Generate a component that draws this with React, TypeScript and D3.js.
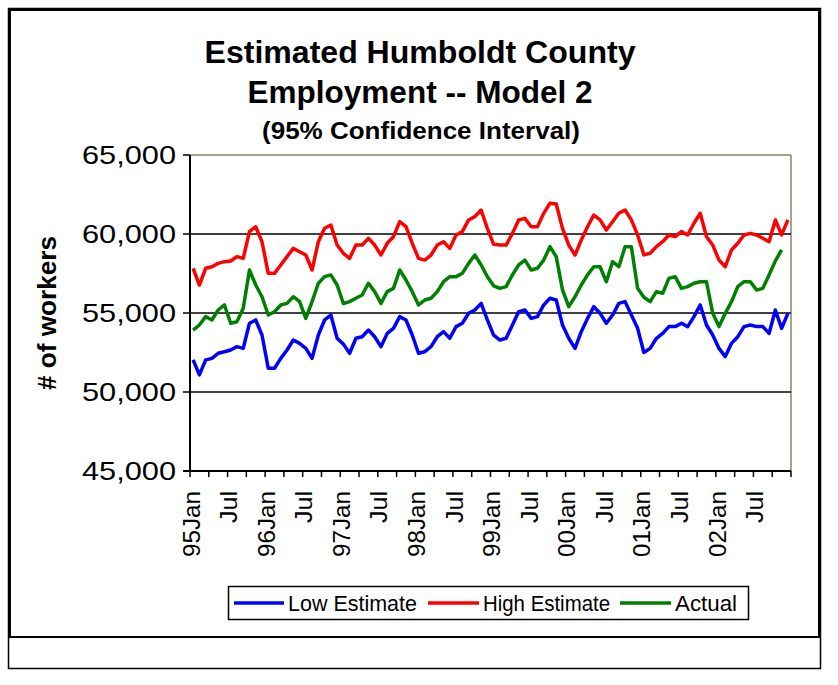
import React from 'react'
import * as d3 from 'd3'

// monthly categories, 1995 Jan .. 2002 Dec
const months = d3.timeMonth.range(new Date(1995, 0, 1), new Date(2003, 0, 1))
const xTickLabels = [
  '95Jan', 'Jul', '96Jan', 'Jul', '97Jan', 'Jul', '98Jan', 'Jul',
  '99Jan', 'Jul', '00Jan', 'Jul', '01Jan', 'Jul', '02Jan', 'Jul'
]
const yTicks = [45000, 50000, 55000, 60000, 65000]
const gridValues = [50000, 55000, 60000]

const lowEstimate = [
  52030, 51080, 52030, 52130, 52450, 52550, 52660, 52870, 52760, 54350,
  54560, 53610, 51500, 51500, 52130, 52660, 53290, 53080, 52760, 52130,
  53610, 54560, 54870, 53400, 53030, 52450, 53400, 53500, 53920, 53500,
  52870, 53710, 54030, 54770, 54560, 53610, 52450, 52550, 52870, 53500,
  53820, 53400, 54140, 54350, 54980, 55190, 55610, 54560, 53600, 53290,
  53400, 54240, 55080, 55190, 54660, 54770, 55510, 55930, 55820, 54240,
  53400, 52760, 53820, 54660, 55400, 54980, 54350, 54870, 55610, 55720,
  54870, 54030, 52500, 52760, 53400, 53710, 54140, 54140, 54350, 54140,
  54770, 55510, 54240, 53610, 52760, 52240, 53080, 53500, 54140, 54240,
  54140, 54140, 53710, 55190, 54030, 54980
]
const highEstimate = [
  57830, 56770, 57830, 57930, 58140, 58250, 58290, 58570, 58460, 60150,
  60460, 59510, 57510, 57510, 58040, 58570, 59090, 58880, 58670, 57720,
  59510, 60360, 60570, 59300, 58780, 58460, 59300, 59300, 59720, 59300,
  58670, 59410, 59830, 60780, 60460, 59410, 58460, 58350, 58670, 59300,
  59510, 59090, 59940, 60150, 60890, 61100, 61520, 60360, 59350, 59300,
  59300, 60040, 60890, 60990, 60460, 60460, 61310, 61950, 61900, 60360,
  59300, 58670, 59620, 60460, 61200, 60890, 60250, 60780, 61310, 61520,
  60890, 59940, 58680, 58780, 59200, 59510, 59940, 59830, 60150, 59940,
  60680, 61310, 59830, 59300, 58350, 57930, 58990, 59410, 59940, 60040,
  59940, 59730, 59510, 60890, 59940, 60890
]
const actual = [
  53920, 54240, 54770, 54560, 55190, 55510, 54350, 54450, 55300, 57720,
  56770, 56030, 54870, 55080, 55510, 55610, 56030, 55720, 54660, 55720,
  56880, 57300, 57410, 56770, 55600, 55720, 55930, 56140, 56880, 56350,
  55610, 56350, 56560, 57720, 57090, 56350, 55510, 55820, 55930, 56350,
  56980, 57300, 57300, 57510, 58140, 58670, 58040, 57300, 56720, 56560,
  56670, 57410, 58040, 58350, 57720, 57830, 58350, 59200, 58570, 56460,
  55400, 56030, 56770, 57410, 57930, 57930, 56980, 58250, 57930, 59200,
  59200, 56560, 56000, 55720, 56350, 56250, 57190, 57300, 56560, 56670,
  56880, 56980, 56980, 54980, 54140, 54980, 55720, 56670, 56980, 56980,
  56460, 56560, 57410, 58300, 59000
]

const seriesList = [
  { name: 'Low Estimate', values: lowEstimate, color: '#0000ff' },
  { name: 'High Estimate', values: highEstimate, color: '#ff0000' },
  { name: 'Actual', values: actual, color: '#008000' }
]

const FONT = '"Liberation Sans", Arial, sans-serif'

const App = () => {
  const plot = { left: 190, right: 791, top: 155, bottom: 471 }

  const xScale = d3
    .scaleBand<number>()
    .domain(d3.range(months.length))
    .range([plot.left, plot.right])
  const bw = xScale.bandwidth()

  const yScale = d3.scaleLinear().domain([45000, 65000]).range([plot.bottom, plot.top])
  const fmt = d3.format(',')

  const line = d3
    .line<number>()
    .x((d, i) => (xScale(i) as number) + bw / 2)
    .y((d) => yScale(d))

  // tick marks every 3 months
  const tickIdx = d3.range(0, months.length + 1, 3)
  // legend layout
  const legendItems = [
    { x1: 234, x2: 284, tx: 288, tl: 129 },
    { x1: 428, x2: 479, tx: 483, tl: 127 },
    { x1: 620, x2: 671, tx: 675, tl: 62 }
  ]

  return (
    <svg
      width={838}
      height={685}
      style={{ position: 'absolute', left: 0, top: 0, background: '#fff' }}
      fontFamily={FONT}
    >
      <rect x={0} y={0} width={838} height={685} fill="#fff" />
      {/* frames */}
      <rect x={8.5} y={8.5} width={812} height={660} fill="none" stroke="#000" strokeWidth={1.5} />
      <rect x={10} y={10} width={809} height={627} fill="none" stroke="#000" strokeWidth={2} />

      {/* title */}
      <text x={420} y={63} textAnchor="middle" fontSize={32} fontWeight="bold" textLength={431} lengthAdjust="spacingAndGlyphs">
        Estimated Humboldt County
      </text>
      <text x={420} y={103} textAnchor="middle" fontSize={32} fontWeight="bold" textLength={345} lengthAdjust="spacingAndGlyphs">
        Employment -- Model 2
      </text>
      <text x={421} y={139} textAnchor="middle" fontSize={24} fontWeight="bold" textLength={318} lengthAdjust="spacingAndGlyphs">
        (95% Confidence Interval)
      </text>

      {/* plot area border (top/right) */}
      <line x1={plot.left} x2={plot.right} y1={plot.top} y2={plot.top} stroke="#86866a" strokeWidth={1.5} />
      <line x1={plot.right} x2={plot.right} y1={plot.top} y2={plot.bottom} stroke="#86866a" strokeWidth={1.5} />

      {/* gridlines */}
      {gridValues.map((v) => (
        <line key={v} x1={plot.left} x2={plot.right} y1={yScale(v)} y2={yScale(v)} stroke="#000" strokeWidth={1.5} />
      ))}

      {/* y axis */}
      <line x1={plot.left} x2={plot.left} y1={plot.top} y2={plot.bottom} stroke="#000" strokeWidth={2} />
      {yTicks.map((v) => (
        <g key={v}>
          <line x1={plot.left - 7} x2={plot.left} y1={yScale(v)} y2={yScale(v)} stroke="#000" strokeWidth={1.5} />
          <text
            x={176}
            y={yScale(v)}
            dy="0.36em"
            textAnchor="end"
            fontSize={25}
            textLength={94}
            lengthAdjust="spacingAndGlyphs"
          >
            {fmt(v)}
          </text>
        </g>
      ))}
      <text
        transform={`translate(56, ${(plot.top + plot.bottom) / 2}) rotate(-90)`}
        textAnchor="middle"
        fontSize={25}
        fontWeight="bold"
        textLength={154}
        lengthAdjust="spacingAndGlyphs"
      >
        # of workers
      </text>

      {/* x axis */}
      <line x1={plot.left - 7} x2={plot.right} y1={plot.bottom} y2={plot.bottom} stroke="#000" strokeWidth={2} />
      {tickIdx.map((i) => {
        const x = i < months.length ? (xScale(i) as number) : plot.right
        return <line key={i} x1={x} x2={x} y1={plot.bottom} y2={plot.bottom + 6} stroke="#000" strokeWidth={1.5} />
      })}
      {xTickLabels.map((lab, k) => {
        const x = (xScale(k * 6) as number) + 1
        return (
          <text
            key={k}
            transform={`translate(${x}, 491) rotate(-90)`}
            dy="0.36em"
            textAnchor="end"
            fontSize={24}
            textLength={lab === 'Jul' ? 32 : 66}
            lengthAdjust="spacingAndGlyphs"
          >
            {lab}
          </text>
        )
      })}

      {/* series */}
      {seriesList.map((s) => (
        <path
          key={s.name}
          d={line(s.values) as string}
          fill="none"
          stroke={s.color}
          strokeWidth={3.5}
          strokeLinejoin="round"
        />
      ))}

      {/* legend */}
      <rect x={228.5} y={586.5} width={520} height={33} fill="#fff" stroke="#000" strokeWidth={1.5} />
      {seriesList.map((s, k) => {
        const it = legendItems[k]
        return (
          <g key={s.name}>
            <line x1={it.x1} x2={it.x2} y1={603} y2={603} stroke={s.color} strokeWidth={3.5} />
            <text
              x={it.tx}
              y={603}
              dy="0.36em"
              fontSize={22}
              textLength={it.tl}
              lengthAdjust="spacingAndGlyphs"
            >
              {s.name}
            </text>
          </g>
        )
      })}
    </svg>
  )
}

export default App
